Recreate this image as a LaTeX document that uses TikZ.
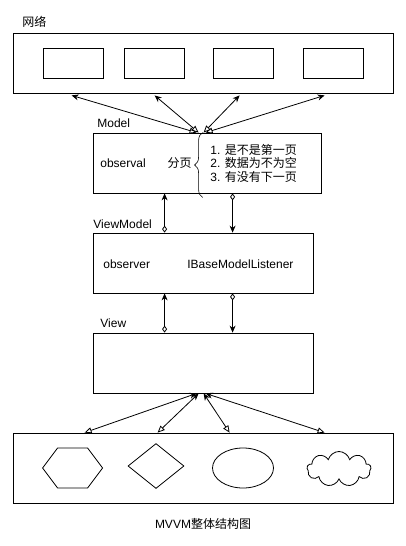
\documentclass[tikz,border=0pt]{standalone}
\usepackage{fontspec}
\setmainfont{Liberation Sans}
\newfontfamily\cjk{Noto Sans CJK SC}
\usetikzlibrary{calc}
\usetikzlibrary{arrows.meta}
\usetikzlibrary{shapes.geometric}
\usetikzlibrary{shapes.symbols}
\usetikzlibrary{decorations.pathreplacing}

\begin{document}
\begin{tikzpicture}[x=1pt,y=-1pt,line width=0.8pt,font=\fontsize{12}{13.5}\selectfont,
  box/.style={draw,inner sep=0pt},
  lbl/.style={inner sep=0pt,anchor=west},
  hd/.tip={Stealth[length=7pt,width=6pt]},
  ohd/.tip={Triangle[open,length=7pt,width=6pt]},
  dhd/.tip={Diamond[open,length=7pt,width=5pt]}]
\useasboundingbox (0,0) rectangle (406,546);

% network
\node[box,minimum width=380,minimum height=60] (net) at (203,63) {};
\node[lbl] at (22,22) {\cjk 网络};
\node[box,minimum width=60,minimum height=30] (n1) at (73,63) {};
\node[box,minimum width=60,minimum height=30] (n2) at (154,63) {};
\node[box,minimum width=60,minimum height=30] (n3) at (243,63) {};
\node[box,minimum width=60,minimum height=30] (n4) at (333,63) {};

% model
\node[box,minimum width=228,minimum height=60] (m) at (207,163) {};
\node[lbl] at (97,123) {Model};
\node[lbl] (obs) at (100,163) {observal};
\node[inner sep=0pt,anchor=east] (fy) at (192,163) {\cjk 分页};
\draw[line width=0.6pt,decorate,decoration={brace,amplitude=8pt}]
  ($(m.south west)+(110,4)$) -- ($(m.north west)+(110,0)$);
\node[lbl,align=left] (pg) at (210,163) {1. {\cjk 是不是第一页}\\2. {\cjk 数据为不为空}\\3. {\cjk 有没有下一页}};

\draw[hd-ohd] ($(net.south west)+(59,2)$) -- ($(m.north west)+(104,0)$);
\draw[hd-ohd] ($(net.south west)+(142,2)$) -- ($(m.north west)+(106,0)$);
\draw[hd-ohd] ($(net.south west)+(227,2)$) -- ($(m.north west)+(111,0)$);
\draw[hd-ohd] ($(net.south west)+(312,2)$) -- ($(m.north west)+(113,0)$);

% viewmodel
\node[box,minimum width=220,minimum height=60] (vm) at (203,263) {};
\node[lbl] at (93,224) {ViewModel};
\node[lbl] (obr) at (103,264) {observer};
\node[lbl] (lsn) at (187,264) {IBaseModelListener};

\draw[hd-dhd] ($(m.south west)+(72,0)$) -- ($(vm.north west)+(72,0)$);
\draw[dhd-hd] ($(m.south west)+(140,0)$) -- ($(vm.north west)+(140,0)$);

% view
\node[box,minimum width=220,minimum height=60] (v) at (203,363) {};
\node[lbl] at (100,323) {View};

\draw[hd-dhd] ($(vm.south west)+(72,0)$) -- ($(v.north west)+(72,0)$);
\draw[dhd-hd] ($(vm.south west)+(140,0)$) -- ($(v.north west)+(140,0)$);

% ui
\node[box,minimum width=380,minimum height=70] (ui) at (203,468) {};
\draw ($(ui.west)+(30,0)$) -- ++(15,-20) -- ++(30,0) -- ++(15,20) -- ++(-15,20) -- ++(-30,0) -- cycle;
\node[draw,diamond,inner sep=0pt,minimum width=56,minimum height=45] (dia) at (156,466) {};
\node[draw,ellipse,inner sep=0pt,minimum width=61,minimum height=40] (ell) at (243,468) {};
\node[draw,cloud,cloud puffs=9,aspect=2,inner sep=0pt,minimum width=64,minimum height=35] (cld) at (339,469) {};

\draw[hd-ohd] ($(v.south west)+(104,0)$) -- ($(ui.north west)+(72,0)$);
\draw[hd-ohd] ($(v.south west)+(106,0)$) -- ($(ui.north west)+(145,0)$);
\draw[hd-ohd] ($(v.south west)+(111,0)$) -- ($(ui.north west)+(217,0)$);
\draw[hd-ohd] ($(v.south west)+(113,0)$) -- ($(ui.north west)+(312,0)$);

\node (cap) at (203,524) {MVVM{\cjk 整体结构图}};
\end{tikzpicture}
\end{document}
